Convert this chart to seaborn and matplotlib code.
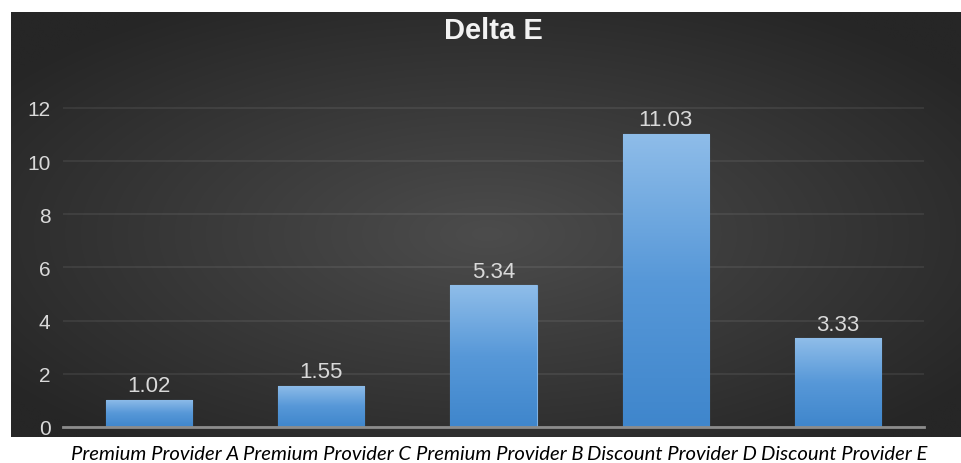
import numpy as np
import pandas as pd
import matplotlib
matplotlib.use("Agg")
import matplotlib.pyplot as plt
import matplotlib.colors as mcolors
import matplotlib.transforms as mtransforms
import seaborn as sns

categories = ["Premium Provider A", "Premium Provider C", "Premium Provider B",
              "Discount Provider D", "Discount Provider E"]
values = [1.02, 1.55, 5.34, 11.03, 3.33]
yticks = [0, 2, 4, 6, 8, 10, 12]
title = "Delta E"

sns.set_theme(style="white")
plt.rcParams['font.family'] = ['Liberation Sans', 'DejaVu Sans']

W, H = 961, 464
fig = plt.figure(figsize=(W / 100, H / 100), dpi=100)
fig.patch.set_facecolor("white")

# dark radial-gradient panel
bg = fig.add_axes([11 / W, 1 - 438 / H, 950 / W, 425 / H], zorder=-5)
ny, nx = 200, 400
yy, xx = np.mgrid[0:ny, 0:nx]
cx, cy = nx * 0.50, ny * 0.52
r = np.sqrt(((xx - cx) / (nx / 2)) ** 2 + ((yy - cy) / (ny / 2)) ** 2)
t = np.clip(r / 1.25, 0, 1)
c0 = np.array(mcolors.to_rgb("#4c4c4c"))
c1 = np.array(mcolors.to_rgb("#262626"))
img = c0[None, None, :] * (1 - t[..., None]) + c1[None, None, :] * t[..., None]
bg.imshow(img, aspect="auto", extent=[0, 1, 0, 1], interpolation="bilinear")
bg.set_axis_off()

# main axes
ax_left, ax_right = 63 / W, 924 / W
ax_bottom = 1 - 428 / H
ax_top = 1 - 55.8 / H
ax = fig.add_axes([ax_left, ax_bottom, ax_right - ax_left, ax_top - ax_bottom])
ax.set_facecolor("none")

df = pd.DataFrame({"cat": categories, "val": values})
sns.barplot(data=df, x="cat", y="val", ax=ax, width=0.5, color="#5b9bd5",
            edgecolor="#7fb2e4", linewidth=0.8, saturation=1, zorder=3)

ax.set_ylim(0, 14)
ax.set_yticks(yticks)
ax.set_yticklabels([str(v) for v in yticks])
ax.set_xlim(-0.5, len(categories) - 0.5)

# gradient fill in bars
grad = np.linspace(0, 1, 256)[:, None]
cmap = mcolors.LinearSegmentedColormap.from_list("bar", ["#8fbde9", "#5798d8", "#3f86cc"])
for p in ax.patches:
    x0, y0 = p.get_x(), p.get_y()
    w, h = p.get_width(), p.get_height()
    im = ax.imshow(grad, cmap=cmap, aspect="auto", extent=[x0, x0 + w, y0, y0 + h],
                   origin="upper", zorder=3.5, interpolation="bilinear")
    im.set_clip_path(p)
ax.set_xlim(-0.5, len(categories) - 0.5)
ax.set_ylim(0, 14)

# value labels
for i, v in enumerate(values):
    ax.annotate(f"{v:.2f}", (i, v), xytext=(0, 2.5), textcoords="offset points",
                ha="center", va="bottom", color="#d9d9d9", fontsize=16, zorder=5)

ax.grid(axis="y", color="white", alpha=0.08, linewidth=1.3, zorder=0)
ax.set_axisbelow(True)
for s in ["top", "right", "left"]:
    ax.spines[s].set_visible(False)
ax.spines["bottom"].set_color("#8c8c8c")
ax.spines["bottom"].set_linewidth(2)
ax.spines["bottom"].set_zorder(4)

ax.tick_params(axis="y", length=0, pad=9, labelsize=15, labelcolor="#d9d9d9")
ax.tick_params(axis="x", length=0, pad=13)
ax.set_xticks(range(len(categories)))
ax.set_xticklabels(categories, fontsize=14.6, color="black",
                   fontfamily=["Lato", "DejaVu Sans"], fontstyle="italic")
shift = mtransforms.ScaledTranslation(6 / 100, 0, fig.dpi_scale_trans)
for lbl in ax.get_xticklabels():
    lbl.set_transform(lbl.get_transform() + shift)
ax.set_xlabel("")
ax.set_ylabel("")

fig.text((ax_left + ax_right) / 2, 1 - 31 / H, title, ha="center", va="center",
         fontsize=21, fontweight="bold", color="#f2f2f2")

fig.savefig("out.png", dpi=100, facecolor="white")
